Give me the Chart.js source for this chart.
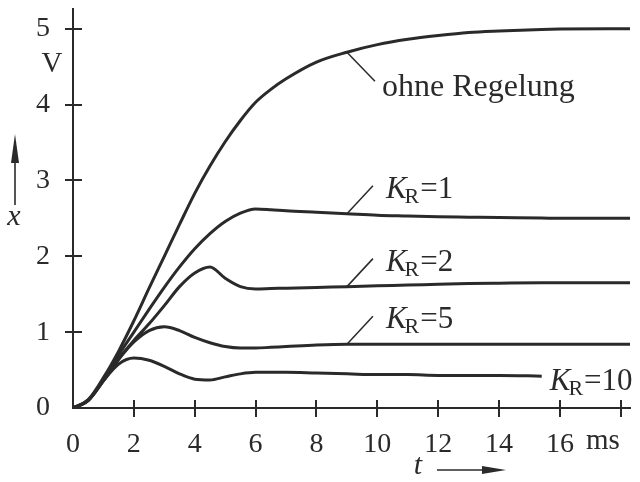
<!DOCTYPE html>
<html><head><meta charset="utf-8">
<script src="https://cdn.jsdelivr.net/npm/chart.js@4"></script>
<style>html,body{margin:0;padding:0;background:#fff}</style>
</head><body>
<canvas id="c" width="640" height="482"></canvas>
<script>
// time axis (ms)
const t      = [0, 0.5, 1, 1.5, 2, 2.5, 3, 3.5, 4, 4.5, 5, 5.5, 6, 6.5, 7, 8, 9, 10, 11, 12, 13, 14, 15.4, 16, 18.3];
// output x (V)
const ohneRegelung = [0, 0.11, 0.4, 0.75, 1.15, 1.58, 2.0, 2.42, 2.83, 3.19, 3.51, 3.79, 4.03, 4.2, 4.34, 4.56, 4.69, 4.79, 4.86, 4.91, 4.95, 4.97, 4.99, 4.995, 5.0];
const kr1  = [0, 0.1, 0.38, 0.7, 1.0, 1.3, 1.59, 1.86, 2.1, 2.3, 2.46, 2.57, 2.625, 2.615, 2.6, 2.58, 2.56, 2.54, 2.53, 2.52, 2.515, 2.51, 2.505, 2.5, 2.5];
const kr2  = [0, 0.1, 0.36, 0.65, 0.89, 1.11, 1.35, 1.6, 1.78, 1.86, 1.71, 1.6, 1.57, 1.575, 1.58, 1.59, 1.6, 1.61, 1.62, 1.63, 1.64, 1.645, 1.65, 1.65, 1.65];
const kr5  = [0, 0.1, 0.36, 0.64, 0.87, 1.02, 1.07, 1.02, 0.93, 0.86, 0.81, 0.79, 0.79, 0.8, 0.81, 0.83, 0.84, 0.84, 0.84, 0.84, 0.84, 0.84, 0.84, 0.84, 0.84];
const kr10 = [0, 0.1, 0.36, 0.58, 0.66, 0.63, 0.55, 0.45, 0.38, 0.37, 0.41, 0.45, 0.47, 0.47, 0.47, 0.46, 0.45, 0.44, 0.44, 0.43, 0.43, 0.43, 0.42, null, null];
const seriesNames = ['ohne Regelung', '1', '2', '5', '10'];
const xTickValues = [0, 2, 4, 6, 8, 10, 12, 14, 16, 18];
const xTickLabels = ['0', '2', '4', '6', '8', '10', '12', '14', '16', ''];
const yTickValues = [0, 1, 2, 3, 4, 5];
const yTickLabels = ['0', '1', '2', '3', '4', '5'];
const xUnit = 'ms', yUnit = 'V', xName = 't', yName = 'x';

const INK = '#2a2a2a';
const SERIF = '"Liberation Serif", "DejaVu Serif", serif';

function pts(arr) { return t.map((v, i) => ({x: v, y: arr[i]})); }
const allSeries = [ohneRegelung, kr1, kr2, kr5, kr10];

const datasets = allSeries.map((s, i) => ({
  label: seriesNames[i],
  data: pts(s),
  borderColor: INK,
  borderWidth: 3,
  pointRadius: 0,
  fill: false,
  spanGaps: false,
  cubicInterpolationMode: 'monotone'
}));

function drawKR(ctx, x, y, n) {
  ctx.textAlign = 'left';
  ctx.textBaseline = 'alphabetic';
  ctx.font = 'italic 31px ' + SERIF;
  ctx.fillText('K', x, y);
  const w = ctx.measureText('K').width;
  ctx.font = '22px ' + SERIF;
  ctx.fillText('R', x + w - 2, y + 5);
  const w2 = ctx.measureText('R').width;
  ctx.font = '31px ' + SERIF;
  ctx.fillText('=' + n, x + w - 2 + w2 + 1, y);
}

const decor = {
  id: 'decor',
  afterDraw(chart) {
    const ctx = chart.ctx;
    const xs = chart.scales.x, ys = chart.scales.y;
    const x0 = xs.getPixelForValue(0), y0 = ys.getPixelForValue(0);
    ctx.save();
    ctx.strokeStyle = INK; ctx.fillStyle = INK;
    // ticks crossing the axes
    ctx.lineWidth = 2;
    xTickValues.forEach(v => {
      if (v === 0) return;
      const px = Math.round(xs.getPixelForValue(v));
      ctx.beginPath(); ctx.moveTo(px, y0 - 8); ctx.lineTo(px, y0 + 9); ctx.stroke();
    });
    yTickValues.forEach(v => {
      if (v === 0) return;
      const py = Math.round(ys.getPixelForValue(v));
      ctx.beginPath(); ctx.moveTo(x0 - 8, py); ctx.lineTo(x0 + 9, py); ctx.stroke();
    });
    // unit labels
    ctx.font = '29px ' + SERIF;
    ctx.textAlign = 'center'; ctx.textBaseline = 'middle';
    ctx.fillText(yUnit, x0 - 21, (ys.getPixelForValue(5) + ys.getPixelForValue(4)) / 2 - 2);
    ctx.font = '29px ' + SERIF;
    ctx.textAlign = 'left'; ctx.textBaseline = 'alphabetic';
    ctx.fillText(xUnit, xs.getPixelForValue(16) + 26, y0 + 41);
    // axis names with arrows
    ctx.font = 'italic 30px ' + SERIF;
    ctx.textAlign = 'center'; ctx.textBaseline = 'middle';
    ctx.fillText(yName, 14, 217);
    ctx.fillText(xName, 418, 466);
    ctx.lineWidth = 1.6;
    ctx.beginPath(); ctx.moveTo(15, 205); ctx.lineTo(15, 150); ctx.stroke();
    ctx.beginPath(); ctx.moveTo(15, 134); ctx.lineTo(11, 163); ctx.lineTo(19, 163); ctx.closePath(); ctx.fill();
    ctx.beginPath(); ctx.moveTo(437, 470); ctx.lineTo(492, 470); ctx.stroke();
    ctx.beginPath(); ctx.moveTo(506, 470); ctx.lineTo(482, 466); ctx.lineTo(482, 474); ctx.closePath(); ctx.fill();
    // leader lines and curve labels
    ctx.lineWidth = 1.5;
    const idx9 = t.indexOf(9);
    const lead = (di, dx, dy) => {
      const p = chart.getDatasetMeta(di).data[idx9];
      ctx.beginPath(); ctx.moveTo(p.x, p.y); ctx.lineTo(p.x + dx, p.y + dy); ctx.stroke();
      return {x: p.x + dx, y: p.y + dy};
    };
    let e = lead(0, 28, 29);
    ctx.font = '32px ' + SERIF; ctx.textAlign = 'left'; ctx.textBaseline = 'alphabetic';
    ctx.fillText(seriesNames[0], e.x + 7, e.y + 15);
    for (let di = 1; di <= 3; di++) {
      e = lead(di, 26, -28);
      drawKR(ctx, e.x + 13, e.y + 12, seriesNames[di]);
    }
    // K_R=10 label at the end of its curve
    const m10 = chart.getDatasetMeta(4).data;
    let last = 0;
    kr10.forEach((v, i) => { if (v !== null) last = i; });
    const pe = m10[last];
    drawKR(ctx, pe.x + 8, pe.y + 14, seriesNames[4]);
    ctx.restore();
  }
};

new Chart(document.getElementById('c'), {
  type: 'line',
  data: { datasets },
  plugins: [decor],
  options: {
    responsive: false,
    animation: false,
    devicePixelRatio: 1,
    layout: { padding: { left: 0, top: 9, right: 10, bottom: 0 } },
    plugins: { legend: { display: false }, tooltip: { enabled: false } },
    scales: {
      x: {
        type: 'linear', min: 0, max: 18.3,
        afterFit(s) { s.height = 74; s.paddingLeft = 0; s.paddingRight = 0; },
        afterBuildTicks(s) { s.ticks = xTickValues.map(v => ({value: v})); },
        grid: { display: false },
        border: { display: true, color: INK, width: 2 },
        ticks: {
          color: INK, padding: 12, maxRotation: 0, autoSkip: false,
          font: { family: SERIF, size: 28 },
          callback: (v) => { const i = xTickValues.indexOf(v); return i >= 0 ? xTickLabels[i] : ''; }
        }
      },
      y: {
        type: 'linear', min: 0, max: 5.26,
        afterFit(s) { s.width = 73; s.paddingTop = 0; s.paddingBottom = 0; },
        afterBuildTicks(s) { s.ticks = yTickValues.map(v => ({value: v})); },
        grid: { display: false },
        border: { display: true, color: INK, width: 2 },
        ticks: {
          color: INK, padding: 15, autoSkip: false,
          font: { family: SERIF, size: 28 },
          callback: (v) => { const i = yTickValues.indexOf(v); return i >= 0 ? yTickLabels[i] : ''; }
        }
      }
    }
  }
});
</script>
</body></html>
